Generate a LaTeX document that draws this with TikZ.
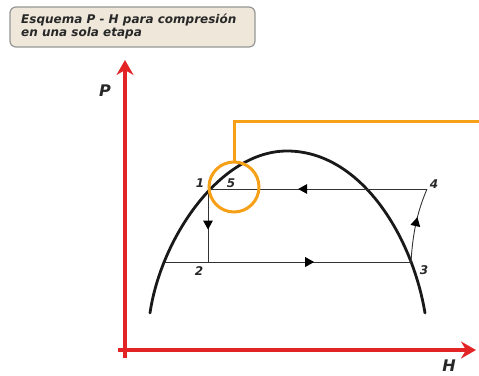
\documentclass[tikz,border=0pt]{standalone}
\usepackage{fontspec}
\setmainfont{DejaVu Sans}
\usepackage{tikz}
\usetikzlibrary{arrows.meta,positioning,calc,decorations.markings}
\definecolor{axisred}{RGB}{226,36,38}
\definecolor{ringorange}{RGB}{246,160,24}
\definecolor{boxfill}{RGB}{238,231,218}
\definecolor{boxline}{RGB}{150,150,150}
\definecolor{txt}{RGB}{40,40,40}

\begin{document}
\begin{tikzpicture}[x=1pt,y=-1pt,
  ax/.style={axisred, line width=3.2pt, -{Stealth[length=15pt,width=17pt,inset=5pt]}},
  dome/.style={black!90, line width=2.8pt, line cap=round},
  cyc/.style={black!80, line width=0.9pt},
  midtri/.style={postaction={decorate}, decoration={markings,
    mark=at position #1 with {\fill[black] (4pt,0) -- (-5pt,5pt) -- (-5pt,-5pt) -- cycle;}}},
  lab/.style={font=\bfseries\itshape\fontsize{12}{12}\selectfont, text=txt, inner sep=0pt},
  axlab/.style={font=\bfseries\itshape\fontsize{16}{16}\selectfont, text=txt, inner sep=0pt},
  ring/.style={draw=ringorange, line width=3pt, circle, minimum size=50pt, inner sep=0pt},
  tbox/.style={draw=boxline, fill=boxfill, line width=1.2pt, rounded corners=6pt},
]
\useasboundingbox (0,0) rectangle (479,375);

% title box
\draw[tbox] (10,7) rectangle (255,47);
\node[anchor=north west, align=left, text=txt, inner sep=0pt,
  font=\bfseries\itshape\fontsize{12}{12.5}\selectfont] (title) at (21,14)
  {Esquema P - H para compresión\\en una sola etapa};

% axes
\coordinate (o)  at (125,350);
\coordinate (yb) at (125,358);
\coordinate (yt) at (125,60);
\coordinate (xl) at (118,350);
\coordinate (xr) at (476,350);
\draw[ax] (yb) -- (yt);
\draw[ax] (xl) -- (xr);
\node[axlab] (P) at (105,91) {P};
\node[axlab] (H) at (449,366) {H};

% saturation dome
\coordinate (dl) at (150,313);
\coordinate (dt) at (287,151);
\coordinate (dr) at (425,313);
\draw[dome] (dl) .. controls (161,238) and (220,151) .. (dt)
                 .. controls (360,151) and (412,235) .. (dr);

% cycle points
\coordinate (p1) at (208,189);
\coordinate (p2) at (208,262);
\coordinate (p2l) at (165,262);
\coordinate (p3) at (411,262);
\coordinate (p4) at (427,189);

\draw[cyc, midtri=0.5] (p1) -- (p2);
\draw[cyc, midtri=0.59] (p2l) -- (p3);
\draw[cyc, midtri=0.57] (p4) -- (p1);
\draw[cyc, midtri=0.55] (p3) .. controls (413,228) and (419,208) .. (p4);

\node[lab] (l1) at (200,183) {1};
\node[lab] (l2) at (199,271) {2};
\node[lab] (l3) at (424,270) {3};
\node[lab] (l4) at (434,184) {4};
\node[lab] (l5) at (231,183) {5};

% orange highlight
\node[ring] (c5) at (234,187) {};
\coordinate (oend) at (480,121);
\draw[ringorange, line width=3pt] (c5.north) |- (oend);
\end{tikzpicture}
\end{document}
